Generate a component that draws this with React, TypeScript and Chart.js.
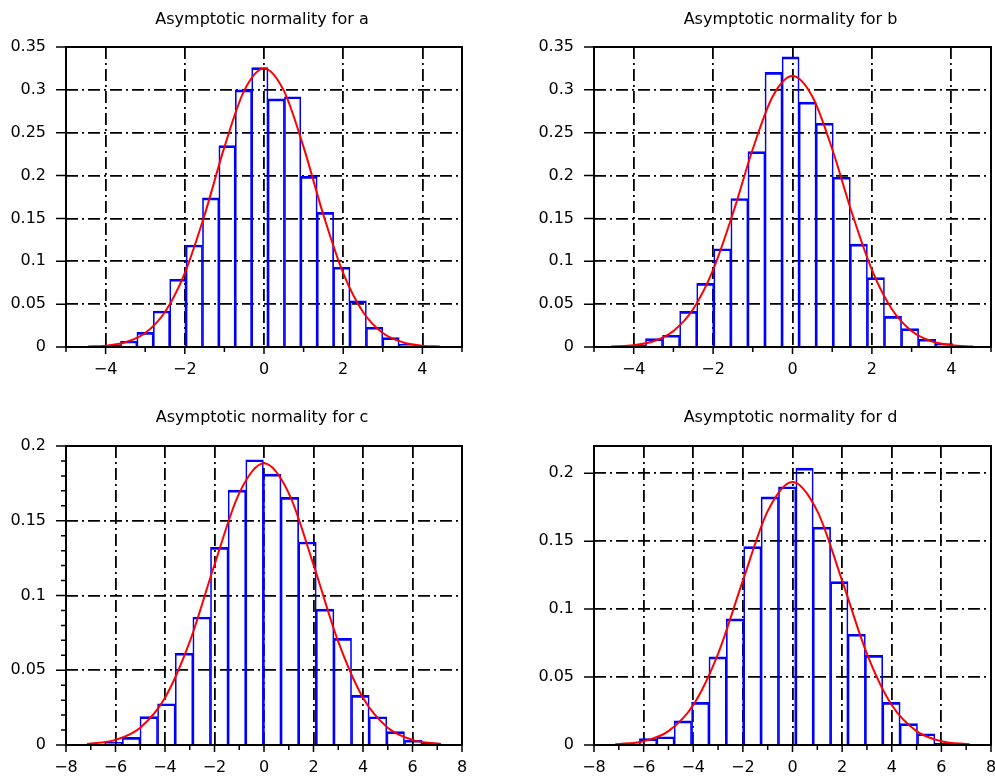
import React, { useEffect, useRef } from 'react';
import { Chart, registerables } from 'chart.js';

Chart.register(...registerables);

// ---------- data ----------
const titleA = 'Asymptotic normality for a';
const titleB = 'Asymptotic normality for b';
const titleC = 'Asymptotic normality for c';
const titleD = 'Asymptotic normality for d';

const edgesA = [-4.452, -4.038, -3.624, -3.21, -2.796, -2.382, -1.968, -1.554, -1.14, -0.726, -0.312, 0.102, 0.516, 0.93, 1.344, 1.758, 2.172, 2.586, 3.0, 3.414, 3.828];
const heightsA = [0.0005, 0.002, 0.007, 0.017, 0.042, 0.079, 0.119, 0.174, 0.235, 0.3, 0.326, 0.2895, 0.292, 0.199, 0.157, 0.093, 0.054, 0.023, 0.011, 0.0035];
const curveXA = [-4.45, -4, -3.5, -3, -2.5, -2, -1.5, -1, -0.5, 0, 0.5, 1, 1.5, 2, 2.5, 3, 3.5, 4, 4.45];
const curveYA = [0.0005, 0.0016, 0.0056, 0.0164, 0.0409, 0.0862, 0.1541, 0.2332, 0.2991, 0.325, 0.2991, 0.2332, 0.1541, 0.0862, 0.0409, 0.0164, 0.0056, 0.0016, 0.0005];

const edgesB = [-4.563, -4.133, -3.703, -3.273, -2.843, -2.413, -1.983, -1.553, -1.123, -0.693, -0.263, 0.167, 0.597, 1.027, 1.457, 1.887, 2.317, 2.747, 3.177, 3.607, 4.037];
const heightsB = [0.0015, 0.002, 0.0098, 0.0137, 0.0415, 0.0743, 0.1146, 0.1733, 0.228, 0.3204, 0.3384, 0.2856, 0.261, 0.198, 0.12, 0.081, 0.0357, 0.0215, 0.009, 0.004];
const curveXB = [-4.56, -4, -3.5, -3, -2.5, -2, -1.5, -1, -0.5, 0, 0.5, 1, 1.5, 2, 2.5, 3, 3.5, 4, 4.56];
const curveYB = [0.0005, 0.0021, 0.0067, 0.0187, 0.0444, 0.09, 0.156, 0.231, 0.2923, 0.3162, 0.2923, 0.231, 0.156, 0.09, 0.0444, 0.0187, 0.0067, 0.0021, 0.0005];

const edgesC = [-7.15, -6.438, -5.725, -5.013, -4.3, -3.588, -2.875, -2.163, -1.45, -0.738, -0.025, 0.688, 1.4, 2.113, 2.825, 3.538, 4.25, 4.963, 5.675, 6.388, 7.1];
const heightsC = [0.0005, 0.0018, 0.0051, 0.019, 0.0276, 0.0615, 0.0856, 0.1322, 0.1705, 0.1908, 0.1812, 0.1656, 0.1358, 0.0909, 0.0713, 0.0332, 0.0189, 0.0089, 0.0031, 0.0013];
const curveXC = [-7.15, -6, -5, -4, -3, -2, -1, 0, 1, 2, 3, 4, 5, 6, 7.15];
const curveYC = [0.0006, 0.0034, 0.0116, 0.0316, 0.0691, 0.1206, 0.1685, 0.1884, 0.1685, 0.1206, 0.0691, 0.0316, 0.0116, 0.0034, 0.0006];

const edgesD = [-6.87, -6.17, -5.469, -4.769, -4.068, -3.368, -2.667, -1.967, -1.266, -0.566, 0.135, 0.836, 1.536, 2.237, 2.937, 3.638, 4.338, 5.039, 5.739, 6.44, 7.14];
const heightsD = [0.0005, 0.0047, 0.0061, 0.0177, 0.0314, 0.0648, 0.0928, 0.146, 0.1826, 0.19, 0.2037, 0.1603, 0.1202, 0.0815, 0.066, 0.0314, 0.0157, 0.0083, 0.0012, 0.0005];
const curveXD = [-7.14, -6, -5, -4, -3, -2, -1, 0, 1, 2, 3, 4, 5, 6, 7.14];
const curveYD = [0.0005, 0.0028, 0.0102, 0.0294, 0.0671, 0.1209, 0.1721, 0.1936, 0.1721, 0.1209, 0.0671, 0.0294, 0.0102, 0.0028, 0.0005];

// tick values
const xTicksAB = [-4, -2, 0, 2, 4];
const xMarksAB = [-5, -4, -3, -2, -1, 0, 1, 2, 3, 4, 5];
const yTicksAB = [0, 0.05, 0.1, 0.15, 0.2, 0.25, 0.3, 0.35];
const xTicksCD = [-8, -6, -4, -2, 0, 2, 4, 6, 8];
const xMarksCD = [-8, -7, -6, -5, -4, -3, -2, -1, 0, 1, 2, 3, 4, 5, 6, 7, 8];
const yTicksC = [0, 0.05, 0.1, 0.15, 0.2];
const yMarksC = [0, 0.01, 0.02, 0.03, 0.04, 0.05, 0.06, 0.07, 0.08, 0.09, 0.1, 0.11, 0.12, 0.13, 0.14, 0.15, 0.16, 0.17, 0.18, 0.19, 0.2];
const yTicksD = [0, 0.05, 0.1, 0.15, 0.2];

// ---------- layout ----------
type Spec = {
  title: string;
  edges: number[];
  heights: number[];
  curveX: number[];
  curveY: number[];
  xMin: number; xMax: number; yMax: number;
  xTicks: number[]; xMarks: number[]; yTicks: number[]; yMarks: number[];
  box: { left: number; top: number; w: number; h: number };
  area: { left: number; top: number; right: number; bottom: number };
  titleY: number;
};

const FONT = '"DejaVu Sans", sans-serif';

const specs: Spec[] = [
  {
    title: titleA, edges: edgesA, heights: heightsA, curveX: curveXA, curveY: curveYA,
    xMin: -5, xMax: 5, yMax: 0.35, xTicks: xTicksAB, xMarks: xMarksAB, yTicks: yTicksAB, yMarks: yTicksAB,
    box: { left: 0, top: 0, w: 497, h: 390 },
    area: { left: 66, top: 47, right: 462, bottom: 347 },
    titleY: 20,
  },
  {
    title: titleB, edges: edgesB, heights: heightsB, curveX: curveXB, curveY: curveYB,
    xMin: -5, xMax: 5, yMax: 0.35, xTicks: xTicksAB, xMarks: xMarksAB, yTicks: yTicksAB, yMarks: yTicksAB,
    box: { left: 497, top: 0, w: 498, h: 390 },
    area: { left: 97, top: 47, right: 494, bottom: 347 },
    titleY: 20,
  },
  {
    title: titleC, edges: edgesC, heights: heightsC, curveX: curveXC, curveY: curveYC,
    xMin: -8, xMax: 8, yMax: 0.2, xTicks: xTicksCD, xMarks: xMarksCD, yTicks: yTicksC, yMarks: yMarksC,
    box: { left: 0, top: 390, w: 497, h: 393 },
    area: { left: 66, top: 56, right: 462, bottom: 355 },
    titleY: 28,
  },
  {
    title: titleD, edges: edgesD, heights: heightsD, curveX: curveXD, curveY: curveYD,
    xMin: -8, xMax: 8, yMax: 0.22, xTicks: xTicksCD, xMarks: xMarksCD, yTicks: yTicksD, yMarks: yTicksD,
    box: { left: 497, top: 390, w: 498, h: 393 },
    area: { left: 97, top: 56, right: 494, bottom: 355 },
    titleY: 28,
  },
];

const fmtX = (v: number) => String(v).replace('-', '\u2212');

function Panel({ spec }: { spec: Spec }) {
  const ref = useRef<HTMLCanvasElement | null>(null);

  useEffect(() => {
    const canvas = ref.current;
    if (!canvas) return;
    const { box, area } = spec;
    const centers = spec.edges.slice(0, -1).map((e, i) => (e + spec.edges[i + 1]) / 2);
    const barData = centers.map((x, i) => ({ x, y: spec.heights[i] }));
    const lineData = spec.curveX.map((x, i) => ({ x, y: spec.curveY[i] }));

    const decor = {
      id: 'decor' + spec.title.slice(-1),
      afterDraw(chart: any) {
        const ctx = chart.ctx as CanvasRenderingContext2D;
        const { left, top, right, bottom } = chart.chartArea;
        const xs = chart.scales.x;
        const ys = chart.scales.y;
        ctx.save();
        ctx.setLineDash([]);
        ctx.strokeStyle = '#000';
        ctx.lineWidth = 1.5;
        ctx.beginPath();
        for (const v of spec.xMarks) {
          const px = xs.getPixelForValue(v);
          const len = spec.xTicks.includes(v) ? 7 : 5;
          ctx.moveTo(px, bottom);
          ctx.lineTo(px, bottom + len);
        }
        for (const v of spec.yMarks) {
          const py = ys.getPixelForValue(v);
          const len = spec.yTicks.includes(v) ? 10 : 5;
          ctx.moveTo(left - len, py);
          ctx.lineTo(left, py);
        }
        ctx.stroke();
        ctx.lineWidth = 2;
        ctx.strokeRect(left, top, right - left, bottom - top);
        ctx.fillStyle = '#000';
        ctx.font = '16px ' + FONT;
        ctx.textAlign = 'center';
        ctx.textBaseline = 'middle';
        ctx.fillText(spec.title, (left + right) / 2 - 2, spec.titleY);
        ctx.restore();
      },
    };

    const gridColorFor = (min: number, max: number) => (c: any) => {
      const v = c.tick ? c.tick.value : NaN;
      return v === min || v === max ? 'rgba(0,0,0,0)' : '#000';
    };

    const chart = new Chart(canvas, {
      type: 'bar',
      data: {
        datasets: [
          {
            type: 'line',
            data: lineData,
            borderColor: '#ff0000',
            borderWidth: 2,
            pointRadius: 0,
            cubicInterpolationMode: 'monotone',
            fill: false,
            order: 0,
          } as any,
          {
            type: 'bar',
            data: barData,
            backgroundColor: 'rgba(0,0,0,0)',
            borderColor: '#0000ff',
            borderWidth: { top: 2, left: 1, right: 1, bottom: 0 },
            borderSkipped: false,
            barPercentage: 1,
            categoryPercentage: 1,
            order: 1,
          } as any,
        ],
      },
      options: {
        responsive: false,
        animation: false,
        devicePixelRatio: 1,
        events: [],
        layout: { padding: { left: 0, top: area.top, right: box.w - area.right, bottom: 0 } },
        plugins: { legend: { display: false }, title: { display: false }, tooltip: { enabled: false } },
        scales: {
          x: {
            type: 'linear',
            min: spec.xMin,
            max: spec.xMax,
            offset: false,
            grid: { color: gridColorFor(spec.xMin, spec.xMax), lineWidth: 1.8, drawTicks: false, offset: false },
            border: { display: false, dash: [12, 4, 2, 4] },
            ticks: {
              autoSkip: false,
              maxRotation: 0,
              minRotation: 0,
              padding: 13,
              color: '#000',
              font: { family: FONT, size: 16 },
              callback: (v: any) => fmtX(Number(v)),
            },
            afterBuildTicks: (s: any) => {
              s.ticks = spec.xTicks.map((v) => ({ value: v }));
            },
            afterFit: (s: any) => {
              s.height = box.h - area.bottom;
              s.paddingLeft = 0;
              s.paddingRight = 0;
            },
          },
          y: {
            type: 'linear',
            min: 0,
            max: spec.yMax,
            grid: { color: gridColorFor(0, spec.yMax), lineWidth: 1.8, drawTicks: false },
            border: { display: false, dash: [12, 4, 2, 4] },
            ticks: {
              autoSkip: false,
              padding: 20,
              color: '#000',
              font: { family: FONT, size: 16 },
              callback: (v: any) => String(v),
            },
            afterBuildTicks: (s: any) => {
              s.ticks = spec.yTicks.map((v) => ({ value: v }));
            },
            afterFit: (s: any) => {
              s.width = area.left;
              s.paddingTop = 0;
              s.paddingBottom = 0;
            },
          },
        },
      } as any,
      plugins: [decor],
    });
    return () => chart.destroy();
  }, [spec]);

  return (
    <canvas
      ref={ref}
      width={spec.box.w}
      height={spec.box.h}
      style={{ position: 'absolute', left: spec.box.left, top: spec.box.top, width: spec.box.w, height: spec.box.h, display: 'block' }}
    />
  );
}

export default function App() {
  return (
    <div style={{ position: 'absolute', left: 0, top: 0, width: 995, height: 783, background: '#fff', overflow: 'hidden' }}>
      {specs.map((s) => (
        <Panel key={s.title} spec={s} />
      ))}
    </div>
  );
}
